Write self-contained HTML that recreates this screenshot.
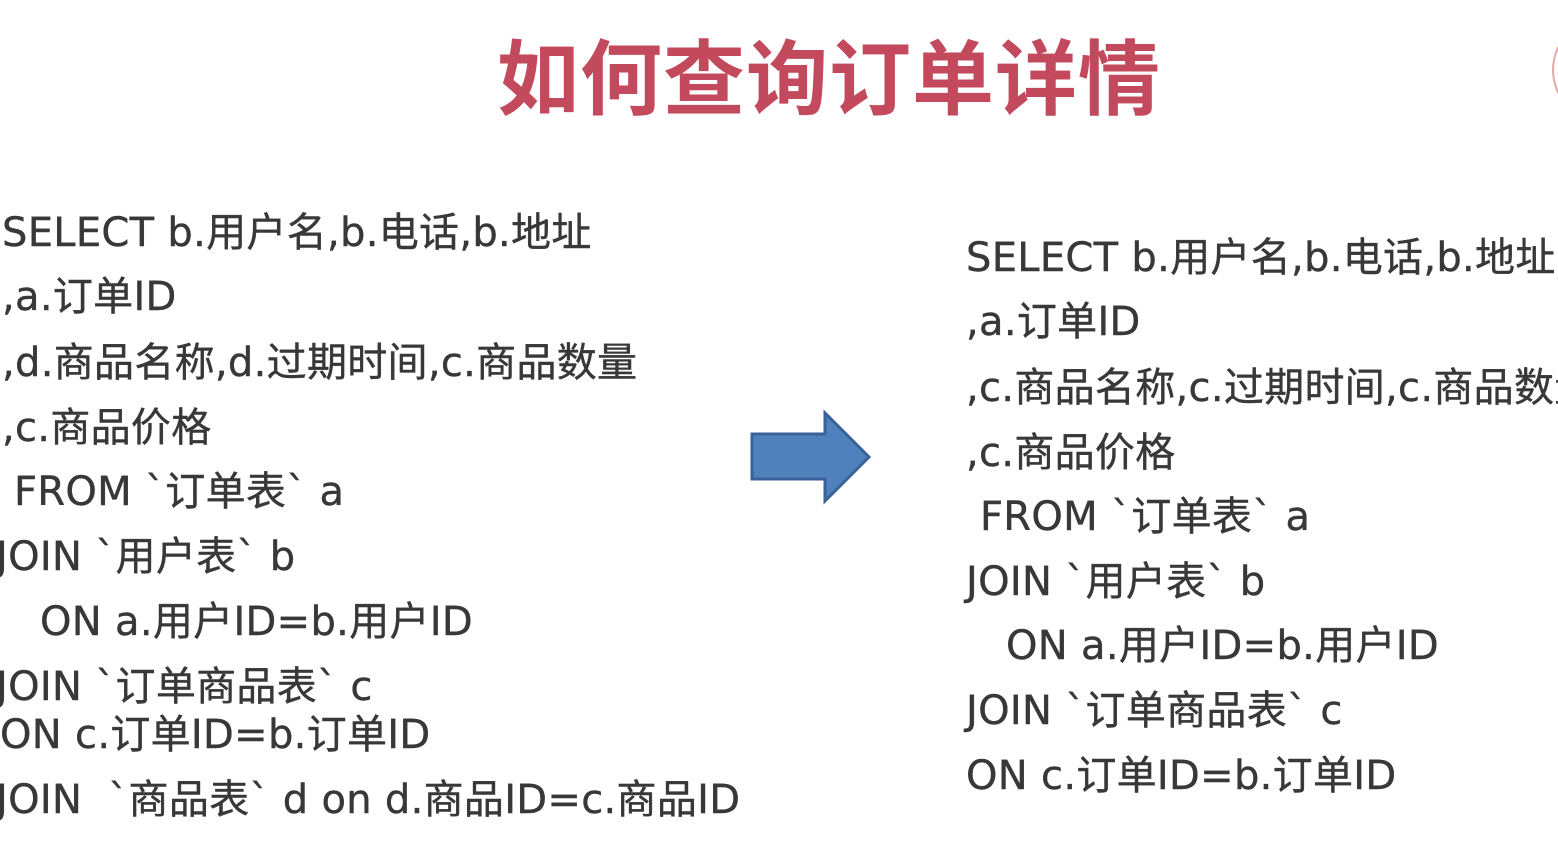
<!DOCTYPE html>
<html><head><meta charset="utf-8"><style>
html,body{margin:0;padding:0;background:#fff;width:1558px;height:846px;overflow:hidden;position:relative}
.t{position:absolute;white-space:nowrap;font-family:"DejaVu Sans","Noto Sans CJK SC",sans-serif;font-size:40px;line-height:40px;letter-spacing:0.3px;color:#383838;-webkit-text-stroke:0.4px #383838}
.title{position:absolute;left:497px;top:28px;font-family:"Noto Sans CJK SC",sans-serif;font-weight:bold;font-size:82px;line-height:90px;color:#c24a5c;letter-spacing:1px;white-space:nowrap}
</style></head><body>
<div class="title">如何查询订单详情</div>
<svg style="position:absolute;left:0;top:0" width="1558" height="846">
<circle cx="1605" cy="70" r="52" fill="none" stroke="#e8a8a8" stroke-width="2"/>
<polygon points="752,434 825,434 825,413 869,457 825,501 825,479 752,479" fill="#4f81bd" stroke="#3a6298" stroke-width="3"/>
</svg>
<div class="t" style="left:2px;top:213px">SELECT b.用户名,b.电话,b.地址</div>
<div class="t" style="left:2px;top:277px">,a.订单ID</div>
<div class="t" style="left:2px;top:343px">,d.商品名称,d.过期时间,c.商品数量</div>
<div class="t" style="left:2px;top:408px">,c.商品价格</div>
<div class="t" style="left:14px;top:472px">FROM `订单表` a</div>
<div class="t" style="left:-4px;top:537px">JOIN `用户表` b</div>
<div class="t" style="left:40px;top:602px">ON a.用户ID=b.用户ID</div>
<div class="t" style="left:-4px;top:667px">JOIN `订单商品表` c</div>
<div class="t" style="left:0px;top:715px">ON c.订单ID=b.订单ID</div>
<div class="t" style="left:-4px;top:780px">JOIN &nbsp;`商品表` d on d.商品ID=c.商品ID</div>

<div class="t" style="left:966px;top:238px">SELECT b.用户名,b.电话,b.地址</div>
<div class="t" style="left:966px;top:302px">,a.订单ID</div>
<div class="t" style="left:966px;top:368px">,c.商品名称,c.过期时间,c.商品数量</div>
<div class="t" style="left:966px;top:433px">,c.商品价格</div>
<div class="t" style="left:980px;top:497px">FROM `订单表` a</div>
<div class="t" style="left:966px;top:562px">JOIN `用户表` b</div>
<div class="t" style="left:1006px;top:626px">ON a.用户ID=b.用户ID</div>
<div class="t" style="left:966px;top:691px">JOIN `订单商品表` c</div>
<div class="t" style="left:966px;top:756px">ON c.订单ID=b.订单ID</div>
</body></html>
